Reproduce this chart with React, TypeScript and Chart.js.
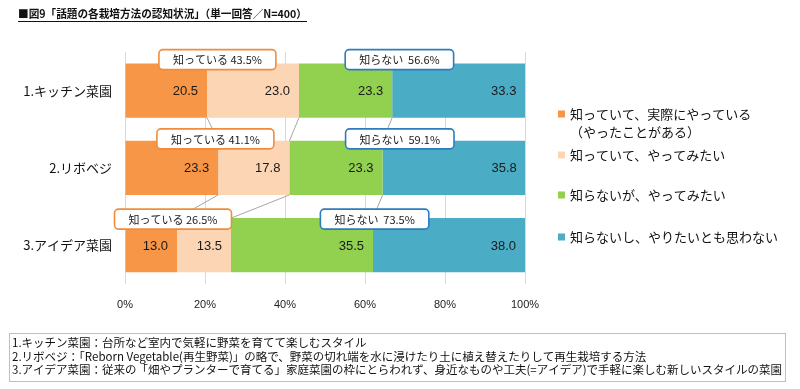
import { useEffect, useRef } from 'react';
import { Chart, registerables } from 'chart.js';
Chart.register(...registerables);

// ---- data ----
const categories = ['1.キッチン菜園', '2.リボベジ', '3.アイデア菜園'];
const seriesNames = [
  '知っていて、実際にやっている（やったことがある）',
  '知っていて、やってみたい',
  '知らないが、やってみたい',
  '知らないし、やりたいとも思わない',
];
const legendLines = [
  ['知っていて、実際にやっている', '（やったことがある）'],
  ['知っていて、やってみたい'],
  ['知らないが、やってみたい'],
  ['知らないし、やりたいとも思わない'],
];
const doingValues = [20.5, 23.3, 13.0];
const wantKnownValues = [23.0, 17.8, 13.5];
const wantUnknownValues = [23.3, 23.3, 35.5];
const notWantValues = [33.3, 35.8, 38.0];
const knownTotals = ['43.5', '41.1', '26.5'];
const unknownTotals = ['56.6', '59.1', '73.5'];
const xTickValues = [0, 20, 40, 60, 80, 100];
const titleText = '■図9「話題の各栽培方法の認知状況」（単一回答／N=400）';
const footnotes = [
  '1.キッチン菜園：台所など室内で気軽に野菜を育てて楽しむスタイル',
  '2.リボベジ：「Reborn Vegetable(再生野菜)」の略で、野菜の切れ端を水に浸けたり土に植え替えたりして再生栽培する方法',
  '3.アイデア菜園：従来の「畑やプランターで育てる」家庭菜園の枠にとらわれず、身近なものや工夫(=アイデア)で手軽に楽しむ新しいスタイルの菜園',
];

// ---- style / layout ----
const colors = ['#F79646', '#FCD5B5', '#92D050', '#4BACC6'];
const orangeCalloutX = [23.1, 22.6, 12.0];
const blueCalloutX = [68.6, 68.7, 62.4];
const calloutTopOffset = [-14, -12, -9];
const JP = "'Noto Sans CJK JP', 'Noto Sans', sans-serif";

function roundRect(ctx: CanvasRenderingContext2D, x: number, y: number, w: number, h: number, r: number) {
  ctx.beginPath();
  ctx.moveTo(x + r, y);
  ctx.lineTo(x + w - r, y);
  ctx.arcTo(x + w, y, x + w, y + r, r);
  ctx.lineTo(x + w, y + h - r);
  ctx.arcTo(x + w, y + h, x + w - r, y + h, r);
  ctx.lineTo(x + r, y + h);
  ctx.arcTo(x, y + h, x, y + h - r, r);
  ctx.lineTo(x, y + r);
  ctx.arcTo(x, y, x + r, y, r);
  ctx.closePath();
}

const overlayPlugin = {
  id: 'overlay',
  beforeDraw(chart: any) {
    const ctx = chart.ctx as CanvasRenderingContext2D;
    ctx.save();
    ctx.fillStyle = '#ffffff';
    ctx.fillRect(0, 0, chart.width, chart.height);
    ctx.restore();
  },
  afterDatasetsDraw(chart: any) {
    const ctx = chart.ctx as CanvasRenderingContext2D;
    const xs = chart.scales.x;
    const nRows = categories.length;
    const metas = chart.data.datasets.map((_: any, i: number) => chart.getDatasetMeta(i));
    const all = [doingValues, wantKnownValues, wantUnknownValues, notWantValues];
    const cum = (row: number, k: number) => {
      let s = 0;
      for (let j = 0; j <= k; j++) s += all[j][row];
      return s;
    };
    const barTop = (row: number) => {
      const b = metas[0].data[row];
      return b.y - b.height / 2;
    };
    const barBottom = (row: number) => {
      const b = metas[0].data[row];
      return b.y + b.height / 2;
    };
    ctx.save();
    // series lines
    ctx.strokeStyle = '#A6A6A6';
    ctx.lineWidth = 1;
    for (let r = 0; r < nRows - 1; r++) {
      for (let k = 0; k < 3; k++) {
        ctx.beginPath();
        ctx.moveTo(xs.getPixelForValue(cum(r, k)), barBottom(r));
        ctx.lineTo(xs.getPixelForValue(cum(r + 1, k)), barTop(r + 1));
        ctx.stroke();
      }
    }
    // value labels
    ctx.font = `13px 'Liberation Sans', Arial, sans-serif`;
    ctx.fillStyle = '#1a1a1a';
    ctx.textAlign = 'right';
    ctx.textBaseline = 'middle';
    for (let k = 0; k < 4; k++) {
      for (let r = 0; r < nRows; r++) {
        const el = metas[k].data[r];
        ctx.fillText(all[k][r].toFixed(1), xs.getPixelForValue(cum(r, k)) - 9, el.y + 1);
      }
    }
    // callouts
    ctx.font = `11px ${JP}`;
    const drawCallout = (text: string, cx: number, top: number, border: string) => {
      const w = ctx.measureText(text).width + 28;
      const h = 20;
      roundRect(ctx, cx - w / 2, top, w, h, 4);
      ctx.fillStyle = '#ffffff';
      ctx.fill();
      ctx.lineWidth = 1.6;
      ctx.strokeStyle = border;
      ctx.stroke();
      ctx.fillStyle = '#1a1a1a';
      ctx.textAlign = 'center';
      ctx.textBaseline = 'middle';
      ctx.fillText(text, cx, top + h / 2 + 0.5);
    };
    for (let r = 0; r < nRows; r++) {
      const top = barTop(r) + calloutTopOffset[r];
      drawCallout(`知っている ${knownTotals[r]}%`, xs.getPixelForValue(orangeCalloutX[r]), top, '#F08C3C');
      drawCallout(`知らない  ${unknownTotals[r]}%`, xs.getPixelForValue(blueCalloutX[r]), top, '#2E7BBE');
    }
    // category labels
    ctx.font = `13px ${JP}`;
    ctx.fillStyle = '#111';
    ctx.textAlign = 'right';
    ctx.textBaseline = 'middle';
    for (let r = 0; r < nRows; r++) {
      const el = metas[0].data[r];
      ctx.fillText(categories[r], 112, el.y);
    }
    // legend
    const legendY = [114, 155, 195, 237];
    ctx.textAlign = 'left';
    for (let k = 0; k < 4; k++) {
      ctx.fillStyle = colors[k];
      ctx.fillRect(558, legendY[k] - 3.5, 7, 7);
      ctx.fillStyle = '#111';
      legendLines[k].forEach((ln, i) => {
        ctx.fillText(ln, 570, legendY[k] + i * 18);
      });
    }
    // title
    ctx.font = `bold 11px ${JP}`;
    ctx.fillStyle = '#111';
    ctx.textBaseline = 'middle';
    ctx.fillText(titleText, 18, 14, 289);
    ctx.fillRect(18, 21, 289, 1);
    // footnote box
    ctx.strokeStyle = '#BFBFBF';
    ctx.lineWidth = 1;
    ctx.strokeRect(9.5, 333.5, 776, 48);
    ctx.font = `11.5px ${JP}`;
    ctx.fillStyle = '#111';
    const fy = [343, 356.5, 370];
    const fw = [357, 645, 770];
    footnotes.forEach((t, i) => {
      ctx.fillText(t, 12, fy[i], fw[i]);
    });
    ctx.restore();
  },
};

export default function App() {
  const ref = useRef<HTMLCanvasElement>(null);
  useEffect(() => {
    if (!ref.current) return;
    const data = [doingValues, wantKnownValues, wantUnknownValues, notWantValues];
    const chart = new Chart(ref.current, {
      type: 'bar',
      data: {
        labels: categories,
        datasets: seriesNames.map((name, i) => ({
          label: name,
          data: data[i],
          backgroundColor: colors[i],
          borderWidth: 0,
          barPercentage: 0.7,
          categoryPercentage: 1,
        })),
      },
      options: {
        indexAxis: 'y',
        responsive: false,
        maintainAspectRatio: false,
        animation: false,
        layout: { padding: { left: 125, right: 275, top: 52, bottom: 62 } },
        plugins: { legend: { display: false }, tooltip: { enabled: false } },
        scales: {
          x: {
            stacked: true,
            min: 0,
            max: 100,
            afterBuildTicks: (axis: any) => {
              axis.ticks = xTickValues.map((v) => ({ value: v }));
            },
            grid: { color: '#D9D9D9', drawTicks: false, lineWidth: 1 },
            border: { display: false },
            ticks: {
              padding: 15,
              color: '#222',
              font: { size: 11, family: "'Liberation Sans', Arial, sans-serif" },
              callback: (v: any) => `${v}%`,
            },
          },
          y: {
            stacked: true,
            display: false,
            grid: { display: false },
          },
        },
      },
      plugins: [overlayPlugin],
    });
    return () => chart.destroy();
  }, []);
  return (
    <div style={{ position: 'absolute', left: 0, top: 0, width: 800, height: 389, background: '#fff' }}>
      <canvas ref={ref} width={800} height={389} style={{ width: 800, height: 389, display: 'block' }} />
    </div>
  );
}
